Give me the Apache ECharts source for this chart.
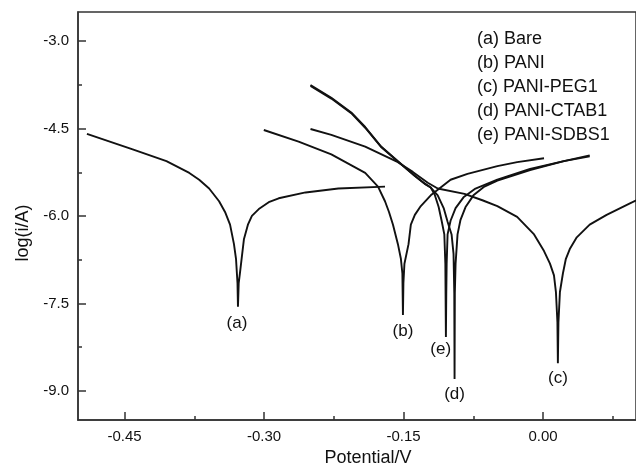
<!DOCTYPE html>
<html>
<head>
<meta charset="utf-8">
<script src="https://cdn.jsdelivr.net/npm/echarts@6/dist/echarts.min.js"></script>
<style>
  html, body { margin: 0; padding: 0; background: #fff; }
  #main { width: 636px; height: 472px; }
</style>
</head>
<body>
<div id="main"></div>
<script>
// Tafel curves, [potential (V), log(i/A)]
var bare = [[-0.4904,-4.590],[-0.4412,-4.858],[-0.4049,-5.059],[-0.3803,-5.260],[-0.3697,-5.377],[-0.3590,-5.528],[-0.3483,-5.746],[-0.3419,-5.930],[-0.3365,-6.148],[-0.3323,-6.482],[-0.3301,-6.733],[-0.3285,-7.152],[-0.3280,-7.554],[-0.3272,-7.152],[-0.3259,-6.985],[-0.3237,-6.683],[-0.3216,-6.399],[-0.3173,-6.148],[-0.3130,-5.997],[-0.3056,-5.880],[-0.2949,-5.762],[-0.2842,-5.695],[-0.2553,-5.595],[-0.2201,-5.528],[-0.1699,-5.495]];
var pani = [[-0.3002,-4.524],[-0.2628,-4.724],[-0.2276,-4.942],[-0.1912,-5.260],[-0.1774,-5.495],[-0.1699,-5.746],[-0.1656,-5.930],[-0.1613,-6.148],[-0.1560,-6.482],[-0.1528,-6.733],[-0.1512,-6.985],[-0.1506,-7.699],[-0.1501,-7.152],[-0.1490,-6.817],[-0.1446,-6.482],[-0.1421,-6.148],[-0.1378,-5.980],[-0.1314,-5.829],[-0.1207,-5.645],[-0.0994,-5.377],[-0.0812,-5.277],[-0.0491,-5.143],[-0.0278,-5.076],[0.0011,-5.009]];
var paniPeg = [[-0.2500,-4.507],[-0.2276,-4.607],[-0.1912,-4.808],[-0.1560,-5.076],[-0.1400,-5.243],[-0.1239,-5.428],[-0.1132,-5.528],[-0.0844,-5.620],[-0.0652,-5.729],[-0.0491,-5.829],[-0.0278,-6.014],[-0.0096,-6.315],[0.0011,-6.600],[0.0075,-6.817],[0.0118,-7.018],[0.0139,-7.303],[0.0155,-7.822],[0.0160,-8.525],[0.0166,-7.822],[0.0182,-7.303],[0.0214,-6.985],[0.0246,-6.733],[0.0288,-6.566],[0.0363,-6.365],[0.0502,-6.148],[0.0684,-5.980],[0.0962,-5.762],[0.1004,-5.729]];
var paniCtab = [[-0.2500,-3.753],[-0.2276,-3.971],[-0.2062,-4.222],[-0.1912,-4.473],[-0.1741,-4.808],[-0.1560,-5.059],[-0.1378,-5.310],[-0.1271,-5.444],[-0.1207,-5.511],[-0.1132,-5.645],[-0.1068,-5.863],[-0.1026,-6.097],[-0.0983,-6.315],[-0.0962,-6.650],[-0.0954,-7.320],[-0.0951,-8.793],[-0.0948,-7.320],[-0.0940,-6.817],[-0.0919,-6.315],[-0.0887,-6.064],[-0.0833,-5.846],[-0.0748,-5.645],[-0.0630,-5.495],[-0.0491,-5.394],[-0.0139,-5.210],[0.0224,-5.059],[0.0502,-4.976]];
var paniSdbs = [[-0.2500,-3.770],[-0.2276,-3.985],[-0.2062,-4.235],[-0.1912,-4.485],[-0.1741,-4.815],[-0.1560,-5.065],[-0.1378,-5.315],[-0.1271,-5.448],[-0.1207,-5.511],[-0.1165,-5.629],[-0.1122,-5.846],[-0.1090,-6.081],[-0.1061,-6.315],[-0.1050,-6.817],[-0.1044,-8.073],[-0.1040,-7.320],[-0.1036,-6.817],[-0.1026,-6.315],[-0.0994,-6.081],[-0.0940,-5.863],[-0.0855,-5.679],[-0.0726,-5.528],[-0.0491,-5.377],[-0.0139,-5.193],[0.0224,-5.059],[0.0502,-4.959]];

var seriesNames = ['(a) Bare', '(b) PANI', '(c) PANI-PEG1', '(d) PANI-CTAB1', '(e) PANI-SDBS1'];
var curves = [bare, pani, paniPeg, paniCtab, paniSdbs];

// curve tags under each dip
var tagText = ['(a)', '(b)', '(e)', '(d)', '(c)'];
var tagPos = [[-0.3291,-7.838],[-0.1506,-7.972],[-0.1100,-8.290],[-0.0951,-9.061],[0.0160,-8.776]];

var xMajor = [-0.45, -0.30, -0.15, 0.00];
var xMinor = [-0.375, -0.225, -0.075, 0.075];
var yMajor = [-9.0, -7.5, -6.0, -4.5, -3.0];
var yMinor = [-8.25, -6.75, -5.25, -3.75];

var font = 'Liberation Sans, Arial, sans-serif';
var ink = '#111';

var myChart = echarts.init(document.getElementById('main'));

var seriesData = curves.map(function (c, i) {
    return {
        name: seriesNames[i],
        type: 'line',
        data: c,
        showSymbol: false,
        symbol: 'none',
        lineStyle: { color: ink, width: 1.9 },
        itemStyle: { color: ink },
        silent: true
    };
});

seriesData.push({
    name: 'tags',
    type: 'scatter',
    symbolSize: 1,
    silent: true,
    itemStyle: { color: 'rgba(0,0,0,0)', opacity: 1 },
    data: tagPos.map(function (p, i) { return [p[0], p[1], tagText[i]]; }),
    label: {
        show: true,
        position: 'inside',
        formatter: function (p) { return p.value[2]; },
        color: ink,
        textBorderWidth: 0,
        fontSize: 17,
        fontFamily: font
    }
});

var tickStyle = { color: '#333', width: 1.5 };

var option = {
    animation: false,
    grid: {
        left: 78,
        top: 12,
        right: -4,
        bottom: 42,
        show: true,
        borderColor: '#333',
        borderWidth: 1.5
    },
    legend: {
        data: seriesNames,
        orient: 'vertical',
        left: 467,
        top: 25,
        icon: 'none',
        itemWidth: 0,
        itemHeight: 18,
        itemGap: 6,
        selectedMode: false,
        textStyle: { color: ink, fontSize: 18, fontFamily: font }
    },
    xAxis: [{
        type: 'value',
        min: -0.5,
        max: 0.1,
        name: 'Potential/V',
        nameLocation: 'middle',
        nameGap: 22,
        nameTextStyle: { color: ink, fontSize: 18, fontFamily: font, padding: [0, 0, 0, 22] },
        axisLine: { show: true, onZero: false, lineStyle: tickStyle },
        axisTick: { show: true, inside: true, length: 8, customValues: xMajor, lineStyle: tickStyle },
        axisLabel: {
            customValues: xMajor,
            margin: 9,
            color: ink,
            fontSize: 15,
            fontFamily: font,
            formatter: function (v) { return v.toFixed(2); }
        },
        splitLine: { show: false }
    }, {
        type: 'value',
        position: 'bottom',
        offset: 0,
        min: -0.5,
        max: 0.1,
        axisLine: { show: false, onZero: false },
        axisTick: { show: true, inside: true, length: 4, customValues: xMinor, lineStyle: tickStyle },
        axisLabel: { show: false },
        splitLine: { show: false }
    }],
    yAxis: [{
        type: 'value',
        min: -9.5,
        max: -2.5,
        name: 'log(i/A)',
        nameLocation: 'middle',
        nameGap: 46,
        nameTextStyle: { color: ink, fontSize: 18, fontFamily: font, padding: [0, 34, 0, 0] },
        axisLine: { show: true, onZero: false, lineStyle: tickStyle },
        axisTick: { show: true, inside: true, length: 8, customValues: yMajor, lineStyle: tickStyle },
        axisLabel: {
            customValues: yMajor,
            margin: 9,
            color: ink,
            fontSize: 15,
            fontFamily: font,
            formatter: function (v) { return v.toFixed(1); }
        },
        splitLine: { show: false }
    }, {
        type: 'value',
        position: 'left',
        offset: 0,
        min: -9.5,
        max: -2.5,
        axisLine: { show: false, onZero: false },
        axisTick: { show: true, inside: true, length: 4, customValues: yMinor, lineStyle: tickStyle },
        axisLabel: { show: false },
        splitLine: { show: false }
    }],
    series: seriesData
};

myChart.setOption(option);
</script>
</body>
</html>
